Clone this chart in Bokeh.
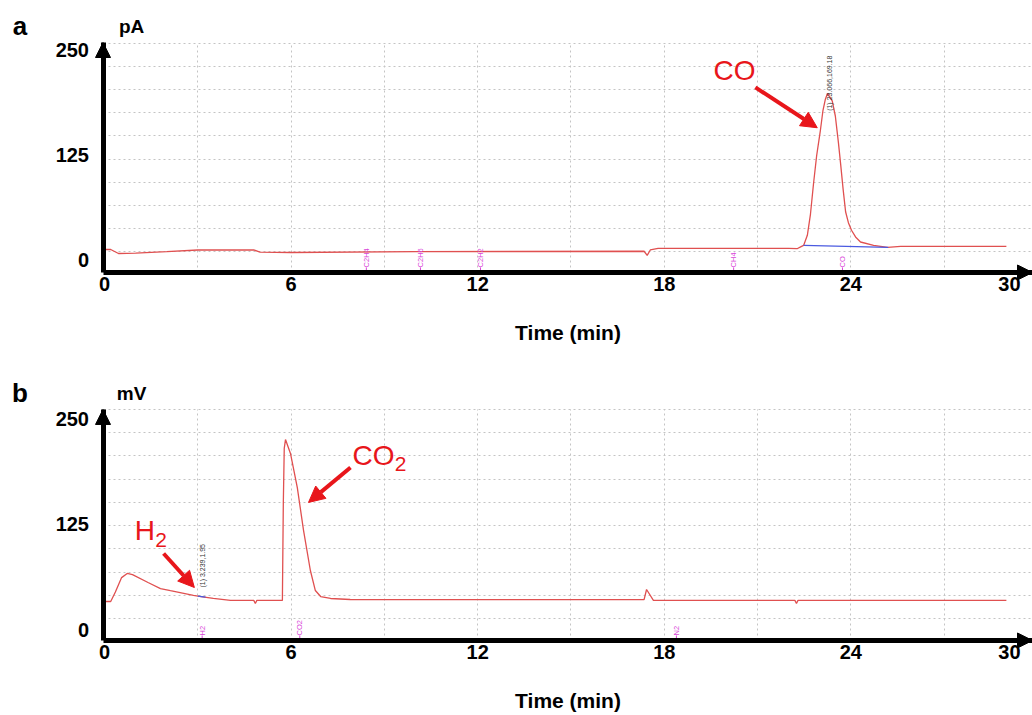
import math
from bokeh.plotting import figure
from bokeh.models import Range1d, FixedTicker, Arrow, NormalHead, Label
from bokeh.layouts import column
from bokeh.embed import file_html
from bokeh.resources import INLINE
from bokeh.core.properties import value

# ---------------- data ----------------
# Panel a: FID signal (pA)
a_time = [0.0, 0.2, 0.45, 1.0, 2.0, 3.0, 4.8, 5.0, 6.0, 10.0, 17.35, 17.45, 17.55, 17.8,
          22.0, 22.27, 22.4, 22.48, 22.6, 22.7, 22.8, 22.9, 23.02, 23.1, 23.18, 23.25,
          23.4, 23.5, 23.6, 23.67, 23.75, 23.83, 23.92, 24.02, 24.15, 24.31, 24.73,
          25.18, 25.6, 29.0]
a_signal = [13.1, 13.1, 8.3, 8.8, 10.5, 12.5, 12.5, 10.0, 9.5, 10.5, 11.0, 6.0, 12.5, 14.3,
            14.3, 14.0, 16.5, 17.9, 30.0, 55.0, 92.0, 125.0, 155.0, 178.0, 192.0, 199.0,
            190.0, 172.0, 140.0, 115.0, 85.0, 58.0, 45.0, 36.0, 28.0, 22.0, 18.0, 15.5,
            16.7, 16.7]
a_base_time = [22.48, 25.2]
a_base_signal = [17.9, 15.5]
a_marker_names = ["C2H4", "C2H6", "C2H2", "CH4", "CO"]
a_marker_times = [8.42, 10.16, 12.09, 20.23, 23.73]
a_peak_text = ["(1) 23.066,169.18"]
a_peak_time = [23.3]

# Panel b: TCD signal (mV)
b_time = [0.0, 0.2, 0.35, 0.55, 0.73, 0.9, 1.4, 1.8, 2.12, 2.86, 3.1, 3.5, 4.05, 4.8, 4.85,
          4.9, 5.72, 5.75, 5.78, 5.82, 5.98, 6.2, 6.4, 6.62, 6.78, 6.95, 7.27, 7.9, 17.35,
          17.43, 17.65, 22.2, 22.25, 22.3, 29.0]
b_signal = [33.7, 33.7, 45.0, 62.0, 66.9, 65.5, 56.2, 49.0, 46.5, 41.0, 39.6, 37.3, 35.0, 35.0,
            31.4, 35.0, 35.0, 150.0, 215.0, 225.4, 208.9, 168.6, 117.8, 70.4, 46.7, 39.6, 37.3,
            36.1, 36.0, 47.9, 35.0, 35.0, 31.4, 35.0, 35.0]
b_base_time = [3.0, 3.25]
b_base_signal = [40.0, 39.0]
b_marker_names = ["H2", "CO2", "N2"]
b_marker_times = [3.14, 6.28, 18.39]
b_peak_text = ["(1) 3.239,1.95"]
b_peak_time = [3.14]

x_ticks = [0, 6, 12, 18, 24, 29.1]
x_tick_labels = ["0", "6", "12", "18", "24", "30"]
y_ticks = [0, 125, 250]
x_grid = [3, 6, 9, 12, 15, 18, 21, 24, 27]
a_y_grid = [10.7 + 27.5 * k for k in range(10)]
b_y_grid = [13.6 + 27.5 * k for k in range(10)]

FONT = "Liberation Sans"
TRACE = "#e05050"
RED = "#e8161b"
MAG = "#d946d9"

X_START, X_END = -3.344, 29.84   # whole figure width
X_AXIS_AT = -0.048               # position of the y axis line


def make_panel(height, yr, y_axis_at, y_top, y_grid, t, s, bt, bs, mnames, mtimes,
               ptext, ptime, pval, marker_bottom, letter, unit, letter_y):
    p = figure(width=1032, height=height, output_backend="svg", toolbar_location=None,
               x_range=Range1d(X_START, X_END), y_range=Range1d(*yr),
               min_border_left=0, min_border_right=0, min_border_top=0,
               min_border_bottom=0)
    p.outline_line_color = None
    p.background_fill_color = "white"
    p.border_fill_color = "white"
    # grids
    p.xgrid.ticker = FixedTicker(ticks=x_grid)
    p.ygrid.ticker = FixedTicker(ticks=y_grid)
    p.xgrid.cross_bounds = (y_axis_at, y_top)
    p.ygrid.cross_bounds = (X_AXIS_AT, X_END)
    for g in (p.xgrid, p.ygrid):
        g.grid_line_color = "#c4c4c4"
        g.grid_line_dash = "2 3"
        g.grid_line_width = 1
    # axes
    p.xaxis.fixed_location = y_axis_at
    p.yaxis.fixed_location = X_AXIS_AT
    p.xaxis.bounds = (X_AXIS_AT, X_END)
    p.yaxis.bounds = (y_axis_at, y_top)
    p.xaxis.ticker = FixedTicker(ticks=x_ticks)
    p.xaxis.major_label_overrides = {tk: lb for tk, lb in zip(x_ticks, x_tick_labels)}
    p.yaxis.ticker = FixedTicker(ticks=y_ticks)
    for ax in (p.xaxis, p.yaxis):
        ax.axis_line_width = 5
        ax.axis_line_color = "black"
        ax.major_tick_line_color = None
        ax.minor_tick_line_color = None
        ax.major_tick_out = 0
        ax.major_tick_in = 0
        ax.major_label_text_font = FONT
        ax.major_label_text_font_style = "bold"
        ax.major_label_text_font_size = "20px"
        ax.major_label_text_color = "black"
    p.xaxis.major_label_standoff = 5
    p.yaxis.major_label_standoff = 14
    p.xaxis.axis_label = "Time (min)"
    p.xaxis.axis_label_text_font = FONT
    p.xaxis.axis_label_text_font_style = "bold"
    p.xaxis.axis_label_text_font_size = "21px"
    p.xaxis.axis_label_text_color = "black"
    p.xaxis.axis_label_standoff = 26

    # traces
    p.line(t, s, line_color=TRACE, line_width=1.3)
    p.line(bt, bs, line_color="#4a5ae0", line_width=1.3)

    # component markers
    p.segment(x0=mtimes, y0=[marker_bottom] * len(mtimes), x1=mtimes,
              y1=[y_axis_at] * len(mtimes), line_color=MAG, line_width=1)
    p.text(x=mtimes, y=[marker_bottom] * len(mtimes), text=mnames, angle=math.pi / 2,
           text_align="left", text_baseline="middle", text_color=MAG,
           text_font=value(FONT), text_font_size="7.5px")
    # peak label
    p.text(x=ptime, y=[pval], text=ptext, angle=math.pi / 2, text_align="center",
           text_baseline="middle", text_color="#333333", text_font=value(FONT),
           text_font_size="7px")

    # axis arrow heads
    p.add_layout(Arrow(x_start=X_END - 1.0, y_start=y_axis_at, x_end=X_END, y_end=y_axis_at,
                       line_alpha=0,
                       end=NormalHead(size=15, fill_color="black", line_color="black")))
    p.add_layout(Arrow(x_start=X_AXIS_AT, y_start=y_top - 20, x_end=X_AXIS_AT, y_end=y_top,
                       line_alpha=0,
                       end=NormalHead(size=15, fill_color="black", line_color="black")))
    # panel letter and unit
    p.add_layout(Label(x=-2.72, y=letter_y, text=letter, text_font=FONT,
                       text_font_style="bold", text_font_size="26px", text_align="center",
                       text_baseline="alphabetic", text_color="black"))
    p.add_layout(Label(x=0.87, y=letter_y, text=unit, text_font=FONT,
                       text_font_style="bold", text_font_size="19px", text_align="center",
                       text_baseline="alphabetic", text_color="black"))
    return p


def red_arrow(p, x0, y0, x1, y1):
    p.add_layout(Arrow(x_start=x0, y_start=y0, x_end=x1, y_end=y1, line_color=RED,
                       line_width=4,
                       end=NormalHead(size=16, fill_color=RED, line_color=RED)))


def red_label(p, x, y, text, size):
    p.add_layout(Label(x=x, y=y, text=text, text_font=FONT, text_font_size=size,
                       text_color=RED, text_align="center", text_baseline="middle"))


pa = make_panel(357, (-115.5, 309.5), -14.3, 259.5, a_y_grid, a_time, a_signal,
                a_base_time, a_base_signal, a_marker_names, a_marker_times, a_peak_text,
                a_peak_time, 211.0, -8.3, "a", "pA", 278.6)
red_label(pa, 20.26, 226.0, "CO", "28px")
red_arrow(pa, 20.93, 206.0, 22.92, 158.0)

pb = make_panel(358, (-101.2, 322.5), -12.4, 261.0, b_y_grid, b_time, b_signal,
                b_base_time, b_base_signal, b_marker_names, b_marker_times, b_peak_text,
                b_peak_time, 76.0, -6.5, "b", "mV", 280.0)
red_label(pb, 1.3, 117.8, "H", "28px")
red_label(pb, 1.82, 106.0, "2", "21px")
red_arrow(pb, 1.90, 90.5, 2.89, 50.3)
red_label(pb, 8.65, 206.5, "CO", "28px")
red_label(pb, 9.52, 196.4, "2", "21px")
red_arrow(pb, 7.91, 192.3, 6.56, 151.0)

layout = column(pa, pb, spacing=0)
open("out.html", "w").write(file_html(layout, INLINE))
